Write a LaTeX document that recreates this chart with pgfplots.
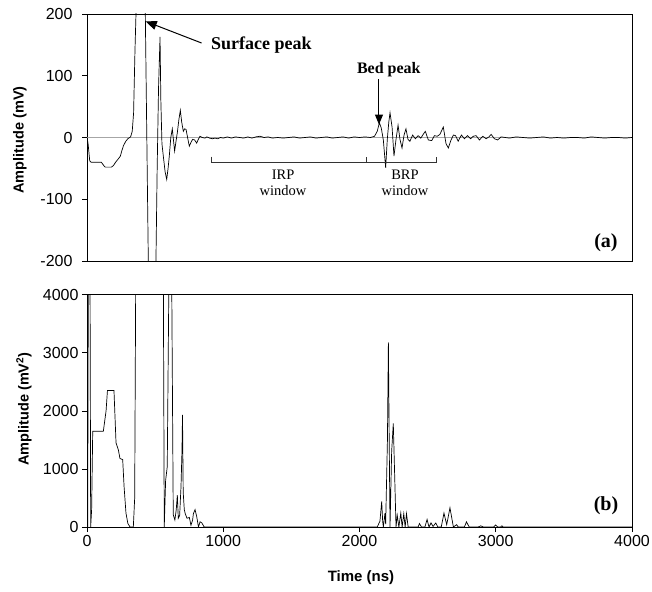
\documentclass[border=0pt]{standalone}
\usepackage{fontspec}
\setmainfont{Liberation Serif}
\setsansfont{Liberation Sans}
\usepackage{pgfplots}
\usepackage{pgfplotstable}
\pgfplotsset{compat=1.18}
\usetikzlibrary{arrows.meta}

% Radar trace: time (ns) and amplitude (mV)
\pgfplotstableread{
t v
0 0
8 -10
20 -38
30 -40
105 -40
125 -46
135 -48
180 -48
195 -45
210 -40
232 -34
245 -30
255 -22
268 -13
285 -6
300 -2
320 1
332 10
342 40
352 140
362 220
380 260
400 260
415 240
428 200
439 0
450 -200
460 -260
495 -260
506 -200
515 -50
525 80
536 163
542 60
550 -10
560 -30
573 -55
585 -68
595 -50
604 -30
615 0
626 14
635 -5
643 -22
652 -8
663 8
675 30
685 44
695 25
707 10
717 14
727 13
740 -2
751 -14
763 -8
775 -3
790 -4
805 -9
817 -3
829 2
845 0
866 -1
880 1
900 -1
920 -2
940 -1
960 -2
980 0
1000 -1
1030 1
1060 -1
1090 1
1120 0
1150 -1
1180 1
1210 -1
1240 1
1270 2
1300 0
1330 1
1360 -1
1400 0
1440 -1
1480 0
1520 1
1560 -1
1600 0
1640 1
1680 -1
1720 0
1760 1
1800 -1
1840 0
1880 1
1920 -1
1960 1
2000 0
2040 1
2080 0
2110 2
2130 10
2146 24
2160 15
2175 -4
2192 -49
2204 -3
2215 25
2224 40
2239 17
2253 -30
2268 -3
2283 20
2297 -3
2312 -17
2327 4
2341 14
2356 -3
2370 -6
2390 4
2410 -2
2430 3
2450 -1
2470 6
2483 10
2505 -4
2530 -5
2550 3
2570 2
2590 5
2615 17
2635 -10
2652 -17
2670 -5
2689 4
2705 3
2724 -6
2748 4
2770 -2
2792 3
2815 -2
2835 2
2856 3
2880 -4
2905 2
2929 -2
2950 1
2966 5
2990 -2
3014 -4
3039 1
3070 0
3100 -1
3150 1
3200 0
3250 -1
3300 0
3350 1
3400 -1
3450 0
3500 -1
3550 0
3600 0
3650 -1
3700 1
3750 0
3800 -1
3850 0
3900 0
3950 -1
4000 0
}\signal

% Squared amplitude (mV^2)
\pgfplotstableread{
t p
0 0
5 0
10 4500
22 4500
27 0
34 300
42 1650
120 1650
140 2000
150 2350
198 2350
213 1450
230 1330
242 1180
262 1160
272 700
286 240
300 60
316 0
340 0
350 500
358 4500
400 5000
520 5000
560 4500
567 0
577 800
589 1040
602 4500
621 4500
633 210
645 120
655 300
663 550
670 150
680 200
690 700
697 1300
701 1930
706 600
714 300
721 230
734 150
751 165
763 30
775 120
781 230
793 300
806 170
818 0
830 90
843 70
860 0
2130 0
2150 100
2163 440
2170 100
2175 0
2187 240
2192 50
2205 1500
2212 3180
2218 1500
2224 0
2236 1300
2248 1785
2258 900
2268 0
2277 200
2289 0
2303 240
2313 0
2325 230
2335 0
2345 230
2357 0
2430 0
2440 60
2455 0
2480 0
2496 130
2510 0
2525 70
2540 10
2560 70
2575 0
2600 0
2620 240
2640 40
2664 330
2689 0
2713 40
2725 0
2770 0
2785 90
2805 0
2870 0
2890 20
2910 0
2985 0
2999 35
3015 0
3035 0
3045 20
3055 0
4000 0
}\power

\begin{document}
\begin{tikzpicture}
\useasboundingbox (0pt,0pt) rectangle (652pt,-591pt);
\pgfplotsset{
  panel/.style={
    scale only axis, width=545pt,
    xmin=0, xmax=4000,
    tick align=outside, xtick pos=bottom, ytick pos=left,
    major tick length=5pt,
    axis line style={black, line width=0.6pt},
    tick style={black, line width=0.6pt},
    ticklabel style={font=\sffamily\fontsize{16}{16}\selectfont},
    /pgf/number format/assume math mode=true,
    /pgf/number format/1000 sep={},
  },
  trace/.style={black, line width=0.7pt, mark=none},
}
% (a) raw trace
\begin{axis}[panel, at={(87pt,-14pt)}, anchor=north west, height=247pt,
  ymin=-200, ymax=200, ytick={-200,-100,0,100,200}, xtick=\empty,
  yticklabel style={xshift=-6pt}]
\draw[gray!70, line width=0.5pt] (axis cs:0,0) -- (axis cs:4000,0);
\addplot[trace] table[x=t, y=v] {\signal};
% window brackets
\draw[black!80, line width=0.5pt] (axis cs:910,-31) -- (axis cs:910,-40) -- (axis cs:2561,-40) -- (axis cs:2561,-31);
\draw[black!80, line width=0.5pt] (axis cs:2052,-40) -- (axis cs:2052,-31);
\node[align=center, font=\fontsize{14.5}{16}\selectfont] at (axis cs:1439,-74) {IRP\\window};
\node[align=center, font=\fontsize{14.5}{16}\selectfont] at (axis cs:2334,-74) {BRP\\window};
% annotations
\draw[line width=1pt, -{Triangle[length=11pt, width=9pt]}] (axis cs:841,153) -- (axis cs:431,188);
\node[anchor=west, font=\bfseries\fontsize{18}{18}\selectfont, inner sep=0pt] at (axis cs:910,150) {Surface peak};
\draw[line width=1pt, -{Triangle[length=10pt, width=8pt]}] (axis cs:2143,94) -- (axis cs:2143,21);
\node[font=\bfseries\fontsize{16}{16}\selectfont, inner sep=0pt] at (axis cs:2215,110) {Bed peak};
\node[font=\bfseries\fontsize{20}{20}\selectfont, inner sep=0pt] at (axis cs:3809,-170) {(a)};
\end{axis}

% (b) squared trace
\begin{axis}[panel, at={(87pt,-294.7pt)}, anchor=north west, height=232.3pt,
  ymin=0, ymax=4000, ytick={0,1000,2000,3000,4000},
  xtick={0,1000,2000,3000,4000}]
\addplot[trace] table[x=t, y=p] {\power};
\node[font=\bfseries\fontsize{20}{20}\selectfont, inner sep=0pt] at (axis cs:3809,362) {(b)};
\end{axis}

\node[rotate=90, font=\sffamily\bfseries\fontsize{14.5}{14.5}\selectfont] at (20pt,-140pt) {Amplitude (mV)};
\node[rotate=90, font=\sffamily\bfseries\fontsize{14.5}{14.5}\selectfont] at (24pt,-409pt) {Amplitude (mV\textsuperscript{2})};
\node[font=\sffamily\bfseries\fontsize{15}{15}\selectfont] at (361pt,-578pt) {Time (ns)};
\end{tikzpicture}
\end{document}
